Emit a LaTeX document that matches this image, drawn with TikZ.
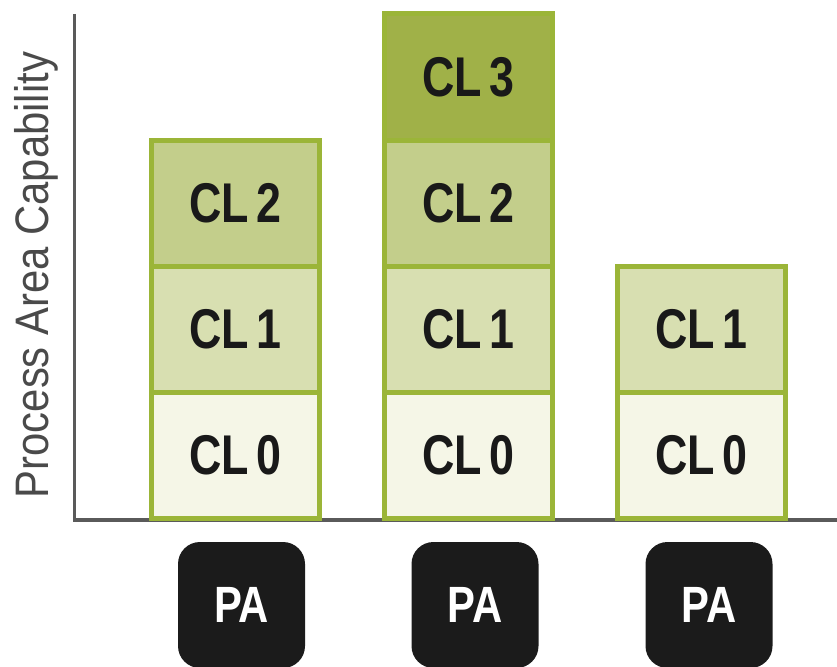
\documentclass[tikz,border=0pt]{standalone}
\usepackage{fontspec}
\setmainfont{Liberation Sans}
\definecolor{bordergreen}{HTML}{9BB538}
\definecolor{fillzero}{HTML}{F5F6E7}
\definecolor{fillone}{HTML}{D8DFB1}
\definecolor{filltwo}{HTML}{C3CE8B}
\definecolor{fillthree}{HTML}{A0B148}
\definecolor{axisgrey}{HTML}{5A5A5A}
\definecolor{labelgrey}{HTML}{4A4A4A}
\definecolor{pablack}{HTML}{1B1B1B}
\newcommand{\cltext}[1]{\fontsize{56}{60}\selectfont\bfseries\scalebox{0.8}[1]{CL\hspace{0.17em}#1}}
\newcommand{\patext}[1]{\fontsize{51}{55}\selectfont\bfseries\scalebox{0.82}[1]{#1}}
\tikzset{
  cell/.style={draw=bordergreen, line width=5pt, minimum width=168pt, minimum height=126pt, inner sep=0pt, text=black!90},
  lvlzero/.style={cell, fill=fillzero},
  lvlone/.style={cell, fill=fillone},
  lvltwo/.style={cell, fill=filltwo},
  lvlthree/.style={cell, fill=fillthree},
  pabox/.style={fill=pablack, rounded corners=22pt, minimum width=127pt, minimum height=126pt, inner sep=0pt, text=white},
  axisline/.style={draw=axisgrey, line width=3.5pt}
}
\begin{document}
\begin{tikzpicture}[x=1pt,y=-1pt]
\useasboundingbox (0,0) rectangle (837,666);
% axes
\coordinate (ytop) at (74.5,14);
\coordinate (orig) at (74.5,520);
\coordinate (xend) at (837,520);
\draw[axisline] (ytop) -- (orig) -- (xend);
% y label
\node[rotate=90, text=labelgrey, inner sep=0pt] (ylabel) at (36,275)
  {\fontsize{47}{50}\selectfont\scalebox{0.89}[1]{Process Area Capability}};
% column 1
\node[lvlzero] (c10) at (235.5,455) {\cltext{0}};
\node[lvlone] (c11) at (235.5,329) {\cltext{1}};
\node[lvltwo] (c12) at (235.5,203) {\cltext{2}};
% column 2
\node[lvlzero] (c20) at (468.5,455) {\cltext{0}};
\node[lvlone] (c21) at (468.5,329) {\cltext{1}};
\node[lvltwo] (c22) at (468.5,203) {\cltext{2}};
\node[lvlthree] (c23) at (468.5,77) {\cltext{3}};
% column 3
\node[lvlzero] (c30) at (701.5,455) {\cltext{0}};
\node[lvlone] (c31) at (701.5,329) {\cltext{1}};
% PA boxes
\node[pabox] (pa1) at (241.5,605) {\patext{PA}};
\node[pabox] (pa2) at (475,605) {\patext{PA}};
\node[pabox] (pa3) at (709,605) {\patext{PA}};
\end{tikzpicture}
\end{document}
